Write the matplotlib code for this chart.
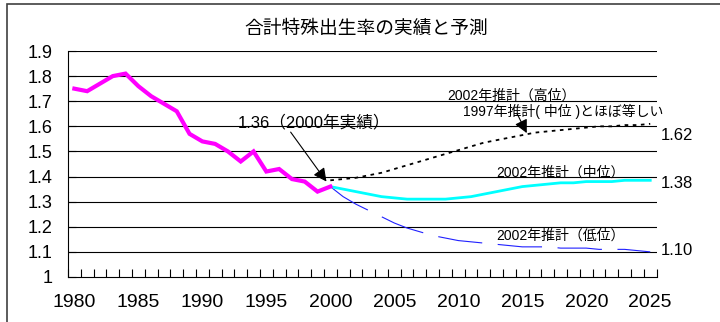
import numpy as np
import matplotlib
matplotlib.use("Agg")
import matplotlib.pyplot as plt
from matplotlib.patches import Rectangle

# --- data -------------------------------------------------------------
actual_years = list(range(1980, 2001))
actual_tfr = [1.75, 1.74, 1.77, 1.80, 1.81, 1.76, 1.72, 1.69, 1.66, 1.57,
              1.54, 1.53, 1.50, 1.46, 1.50, 1.42, 1.43, 1.39, 1.38, 1.34, 1.36]

proj_years = list(range(2000, 2026))
proj_high = [1.385, 1.39, 1.395, 1.405, 1.415, 1.43, 1.445, 1.46, 1.475, 1.49,
             1.505, 1.52, 1.535, 1.545, 1.555, 1.565, 1.575, 1.58, 1.585, 1.59,
             1.595, 1.60, 1.60, 1.605, 1.605, 1.61]
proj_mid = [1.36, 1.35, 1.34, 1.33, 1.32, 1.315, 1.31, 1.31, 1.31, 1.31,
            1.315, 1.32, 1.33, 1.34, 1.35, 1.36, 1.365, 1.37, 1.375, 1.375,
            1.38, 1.38, 1.38, 1.385, 1.385, 1.385]
proj_low = [1.36, 1.32, 1.29, 1.265, 1.24, 1.215, 1.195, 1.18, 1.165, 1.155,
            1.145, 1.14, 1.135, 1.13, 1.125, 1.12, 1.12, 1.12, 1.115, 1.115,
            1.115, 1.11, 1.11, 1.11, 1.105, 1.10]

y_ticks = [1, 1.1, 1.2, 1.3, 1.4, 1.5, 1.6, 1.7, 1.8, 1.9]
y_labels = ["1", "1.1", "1.2", "1.3", "1.4", "1.5", "1.6", "1.7", "1.8", "1.9"]
x_label_years = [1980, 1985, 1990, 1995, 2000, 2005, 2010, 2015, 2020, 2025]

title = "合計特殊出生率の実績と予測"
fam = ["Liberation Sans", "Noto Sans CJK JP"]

# --- figure -----------------------------------------------------------
fig = plt.figure(figsize=(7.2, 3.22), dpi=100)
ax = fig.add_axes([0.0944, 0.1398, 0.8176, 0.7018])

# outer chart-area border
fig.patches.append(Rectangle((7 / 720, -0.05), 1.2, 1 - 4 / 322 + 0.05,
                             transform=fig.transFigure, fill=False,
                             edgecolor="#404040", linewidth=1.2))

for v in y_ticks[1:]:
    ax.axhline(v, color="black", linewidth=0.8, zorder=1)

ax.plot(proj_years, proj_low, color="#2020ff", linewidth=0.8,
        dashes=(40, 14), zorder=3)
ax.plot(proj_years, proj_mid, color="#00ffff", linewidth=2.0, zorder=3)
ax.plot(proj_years, proj_high, color="black", linewidth=1.3,
        dashes=(2, 2.5), zorder=3)
ax.plot(actual_years, actual_tfr, color="#ff00ff", linewidth=3.0,
        solid_joinstyle="miter", zorder=4)

ax.set_xlim(1979.5, 2025.5)
ax.set_ylim(1.0, 1.9)
ax.set_yticks(y_ticks)
ax.set_yticklabels(y_labels, family=fam, fontsize=13)
ax.set_xticks(x_label_years)
ax.set_xticklabels([str(y) for y in x_label_years], family=fam, fontsize=14)
ax.set_xticks(np.arange(1979.5, 2026, 1.0), minor=True)
ax.tick_params(axis="x", which="major", length=0, pad=12)
ax.tick_params(axis="x", which="minor", direction="in", length=6, width=0.8)
ax.tick_params(axis="y", direction="in", length=6, width=0.8, pad=11)

for s in ["top", "right"]:
    ax.spines[s].set_visible(False)
ax.spines["left"].set_linewidth(0.8)
ax.spines["bottom"].set_linewidth(0.8)

fig.text(366 / 720, 1 - 29 / 322, title, family=fam, fontsize=13.5,
         ha="center", va="center")

# annotations
arrow = dict(arrowstyle="-|>", color="black", linewidth=0.8,
             mutation_scale=20, shrinkA=0, shrinkB=0)
ax.text(1998.7, 1.614, "1.36（2000年実績）", family=fam, fontsize=12,
        ha="center", va="center")
ax.annotate("", xy=(1999.7, 1.38), xytext=(1996.9, 1.577),
            arrowprops=arrow, annotation_clip=False)
ax.text(2009.1, 1.724, "2002年推計（高位）", family=fam, fontsize=10,
        ha="left", va="center")
ax.text(2010.4, 1.658, "1997年推計( 中位 )とほぼ等しい", family=fam,
        fontsize=10, ha="left", va="center")
ax.annotate("", xy=(2015.35, 1.573), xytext=(2014.6, 1.65),
            arrowprops=arrow, annotation_clip=False)
ax.text(2013.0, 1.416, "2002年推計（中位）", family=fam, fontsize=10,
        ha="left", va="center")
ax.text(2013.0, 1.166, "2002年推計（低位）", family=fam, fontsize=10,
        ha="left", va="center")

for yv, lab in [(1.565, "1.62"), (1.373, "1.38"), (1.106, "1.10")]:
    ax.text(2025.83, yv, lab, family=fam, fontsize=12, ha="left",
            va="center", clip_on=False)

fig.savefig("out.png", dpi=100)
